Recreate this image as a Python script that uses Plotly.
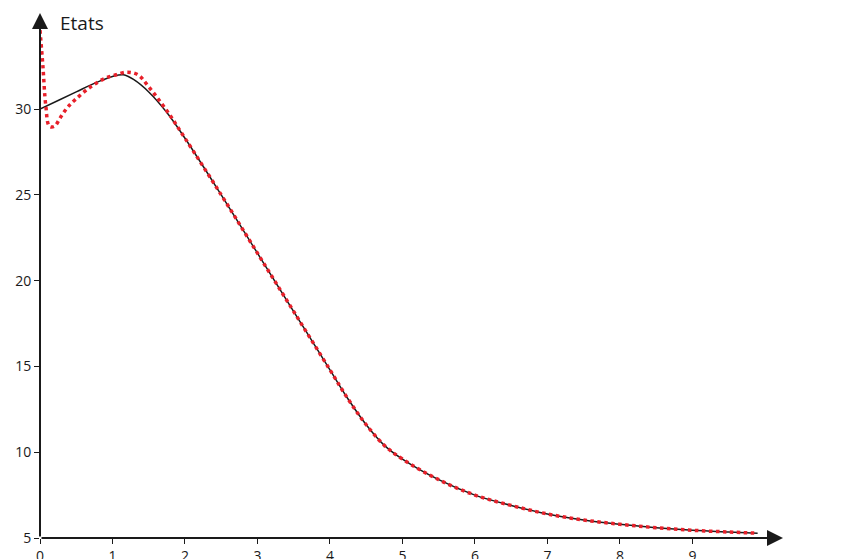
import plotly.graph_objects as go

# black curve (states)
x_etat = [0, 0.25, 0.5, 0.75, 1.0, 1.15, 1.3, 1.5, 1.75, 2.0, 2.5, 3.0, 3.5, 4.0, 4.25, 4.5, 4.75, 5.0, 5.5, 6.0, 6.5, 7.0, 7.5, 8.0, 8.5, 9.0, 9.5, 9.9]
y_etat = [30.0, 30.5, 31.0, 31.5, 31.9, 32.0, 31.7, 31.0, 29.8, 28.3, 25.0, 21.6, 18.2, 14.8, 13.1, 11.6, 10.4, 9.6, 8.4, 7.5, 6.9, 6.4, 6.05, 5.8, 5.6, 5.45, 5.35, 5.28]

# red dotted curve (estimate)
x_est = [0.0, 0.04, 0.08, 0.13, 0.2, 0.28, 0.38, 0.5, 0.7, 0.9, 1.05, 1.2, 1.35, 1.5, 1.75, 2.0, 2.5, 3.0, 3.5, 4.0, 4.25, 4.5, 4.75, 5.0, 5.5, 6.0, 6.5, 7.0, 7.5, 8.0, 8.5, 9.0, 9.5, 9.9]
y_est = [34.6, 32.5, 30.2, 29.0, 29.0, 29.5, 30.1, 30.6, 31.3, 31.8, 32.0, 32.15, 32.0, 31.3, 29.9, 28.3, 25.0, 21.6, 18.2, 14.8, 13.1, 11.6, 10.4, 9.6, 8.4, 7.5, 6.9, 6.4, 6.05, 5.8, 5.6, 5.45, 5.35, 5.28]

fig = go.Figure()
fig.add_trace(go.Scatter(x=x_etat, y=y_etat, mode="lines",
                         line=dict(color="#1a1a1a", width=1.5, shape="spline")))
fig.add_trace(go.Scatter(x=x_est, y=y_est, mode="lines",
                         line=dict(color="#e8202a", width=3.5, dash="dot", shape="spline")))

# axes drawn as arrows
fig.add_annotation(x=10.25, y=5, ax=0, ay=5, xref="x", yref="y", axref="x", ayref="y",
                   showarrow=True, arrowhead=2, arrowsize=1.6, arrowwidth=2, arrowcolor="#1a1a1a", text="")
fig.add_annotation(x=0, y=35.6, ax=0, ay=5, xref="x", yref="y", axref="x", ayref="y",
                   showarrow=True, arrowhead=2, arrowsize=1.6, arrowwidth=2, arrowcolor="#1a1a1a", text="")
fig.add_annotation(x=10.35, y=5.1, xref="x", yref="y", text="Temps", showarrow=False,
                   xanchor="left", yanchor="middle", font=dict(size=19, color="#1a1a1a"))
fig.add_annotation(x=0.25, y=35.0, xref="x", yref="y", text="Etats", showarrow=False,
                   xanchor="left", yanchor="middle", font=dict(size=19, color="#1a1a1a"))

fig.update_xaxes(range=[0, 10.25], tickvals=list(range(10)), ticks="outside", ticklen=5,
                 tickcolor="#1a1a1a", showgrid=False, zeroline=False, showline=False,
                 automargin=False, tickfont=dict(size=14))
fig.update_yaxes(range=[5, 35.6], tickvals=[5, 10, 15, 20, 25, 30], ticks="outside", ticklen=5,
                 tickcolor="#1a1a1a", showgrid=False, zeroline=False, showline=False,
                 automargin=False, tickfont=dict(size=14))
fig.update_layout(width=850, height=559, showlegend=False, plot_bgcolor="white", paper_bgcolor="white",
                  margin=dict(l=32, r=75, t=5, b=29),
                  font=dict(family="Open Sans", size=14, color="#1a1a1a"))
fig.write_html("out.html")
